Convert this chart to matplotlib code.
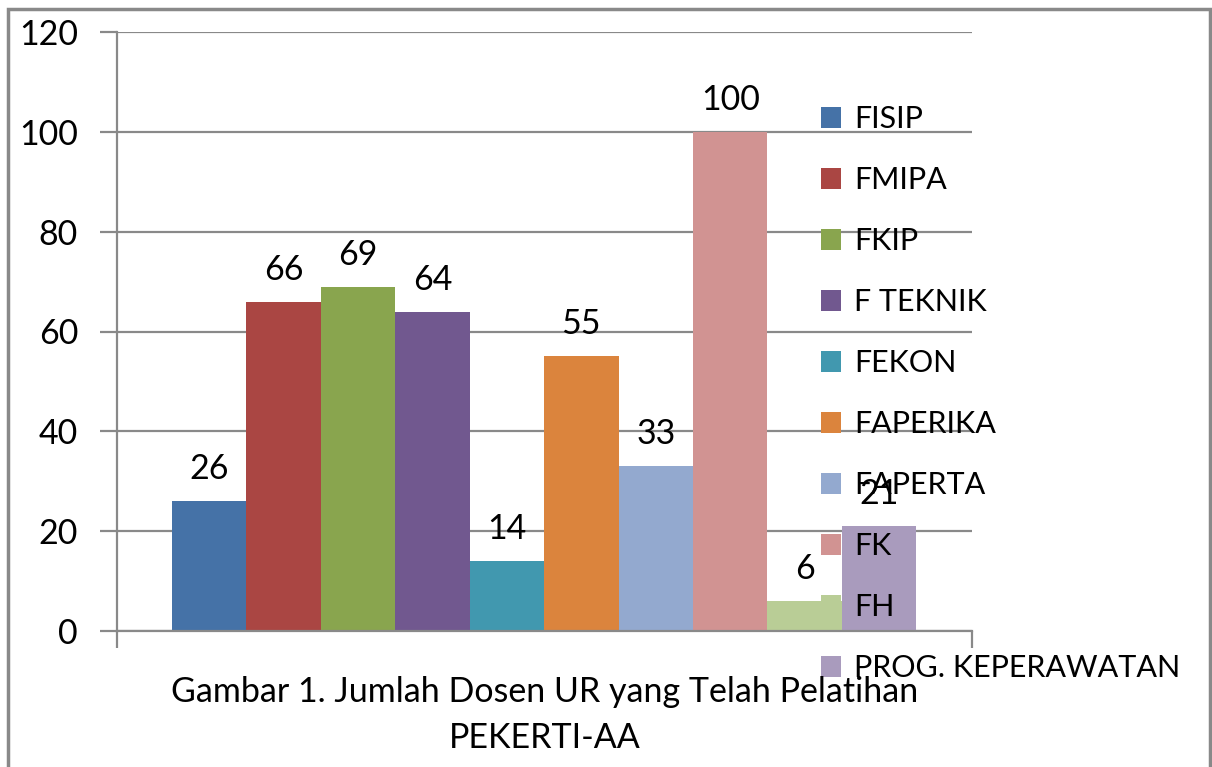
import matplotlib.pyplot as plt
from matplotlib.patches import Rectangle

faculties = ["FISIP", "FMIPA", "FKIP", "F TEKNIK", "FEKON", "FAPERIKA",
             "FAPERTA", "FK", "FH", "PROG. KEPERAWATAN"]
counts = [26, 66, 69, 64, 14, 55, 33, 100, 6, 21]
colors = ["#4572A7", "#AA4643", "#89A54E", "#71588F", "#4198AF",
          "#DB843D", "#93A9CF", "#D19392", "#B9CD96", "#A99BBD"]
yticks = [0, 20, 40, 60, 80, 100, 120]
caption = "Gambar 1. Jumlah Dosen UR yang Telah Pelatihan\nPEKERTI-AA"

plt.rcParams['font.family'] = ['Lato', 'DejaVu Sans']
GRAY = "#898989"
FS = 24.5
LEG_FS = 22

fig = plt.figure(figsize=(12.12, 7.67), dpi=100)
ax = fig.add_axes([117/1212, 1-631/767, (972-117)/1212, (631-32)/767])

handles = []
for i, (name, val, col) in enumerate(zip(faculties, counts, colors)):
    b = ax.bar(i, val, width=1.0, align='edge', color=col, label=name, zorder=2)
    handles.append(b)
    ax.text(i + 0.5, val + 3.2, str(val), ha='center', va='bottom', fontsize=FS, zorder=3)

ax.set_xlim(-0.74, 10.75)
ax.set_ylim(0, 120)
ax.set_yticks(yticks)
ax.set_yticklabels([str(t) for t in yticks], fontsize=FS)
ax.set_xticks([-0.74, 10.75])
ax.set_xticklabels([])
ax.yaxis.grid(True, color=GRAY, linewidth=1.6, zorder=1)
ax.set_axisbelow(True)
ax.tick_params(axis='y', length=12, color=GRAY, width=1.6, pad=16)
ax.tick_params(axis='x', length=12, color=GRAY, width=1.6)
for s in ['top', 'right']:
    ax.spines[s].set_visible(False)
for s in ['left', 'bottom']:
    ax.spines[s].set_color(GRAY)
    ax.spines[s].set_linewidth(1.6)

leg = ax.legend(handles=handles, loc='upper left', bbox_to_anchor=(821/1212, 1-105/767),
                bbox_transform=fig.transFigure, frameon=False, fontsize=LEG_FS,
                handlelength=0.66, handleheight=0.66, handletextpad=0.42,
                labelspacing=1.08, borderaxespad=0, borderpad=0)
leg.set_zorder(5)

fig.text(545/1212, 1-715/767, caption, ha='center', va='center', fontsize=FS,
         linespacing=1.5)

fig.patches.append(Rectangle((8/1212, -0.05), (1210-8)/1212, 1.05 - 9/767,
                             transform=fig.transFigure, fill=False,
                             edgecolor=GRAY, linewidth=2.5))

fig.savefig("out.png", dpi=100)
